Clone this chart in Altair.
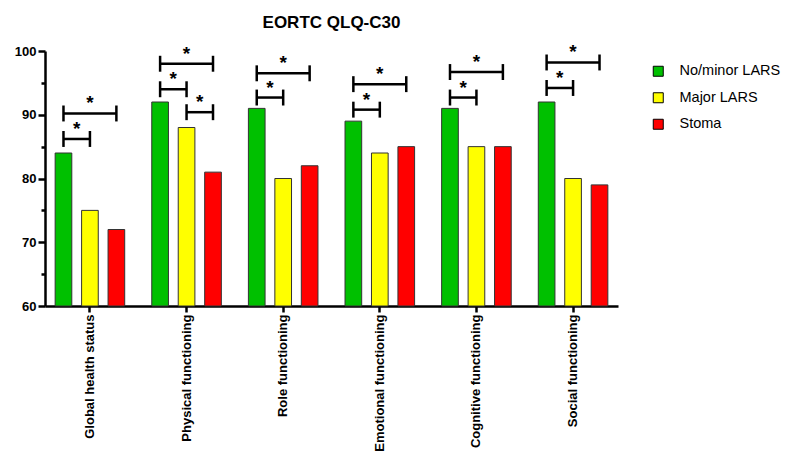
import altair as alt
import pandas as pd

categories = ["Global health status", "Physical functioning", "Role functioning",
              "Emotional functioning", "Cognitive functioning", "Social functioning"]
groups = ["No/minor LARS", "Major LARS", "Stoma"]
no_minor_lars = [84, 92, 91, 89, 91, 92]
major_lars = [75, 88, 80, 84, 85, 80]
stoma = [72, 81, 82, 85, 85, 79]
colors = ["#00C000", "#FFFF00", "#FF0000"]

# significance brackets (category, from group, to group, bracket level)
bracket_category = ["Global health status", "Global health status",
                    "Physical functioning", "Physical functioning", "Physical functioning",
                    "Role functioning", "Role functioning",
                    "Emotional functioning", "Emotional functioning",
                    "Cognitive functioning", "Cognitive functioning",
                    "Social functioning", "Social functioning"]
bracket_from = ["No/minor LARS", "No/minor LARS",
                "No/minor LARS", "No/minor LARS", "Major LARS",
                "No/minor LARS", "No/minor LARS",
                "No/minor LARS", "No/minor LARS",
                "No/minor LARS", "No/minor LARS",
                "No/minor LARS", "No/minor LARS"]
bracket_to = ["Major LARS", "Stoma",
              "Major LARS", "Stoma", "Stoma",
              "Major LARS", "Stoma",
              "Major LARS", "Stoma",
              "Major LARS", "Stoma",
              "Major LARS", "Stoma"]
bracket_level = [86.2, 90.2, 94.0, 98.0, 90.4, 92.7, 96.5, 90.8, 94.8, 92.7, 96.7, 94.2, 98.2]
y_min = 60

FONT = "Liberation Sans"

rows = []
for cat, a, b, c in zip(categories, no_minor_lars, major_lars, stoma):
    for g, v in zip(groups, (a, b, c)):
        rows.append({"category": cat, "group": g, "value": v})
bars_df = pd.DataFrame(rows)

ends = []
stars = []
for i, (cat, f, t, lev) in enumerate(zip(bracket_category, bracket_from, bracket_to, bracket_level)):
    ends.append({"id": i, "category": cat, "group": f, "level": lev})
    ends.append({"id": i, "category": cat, "group": t, "level": lev})
    span = groups.index(t) - groups.index(f)
    anchor = f if span == 1 else groups[groups.index(f) + 1]
    stars.append({"id": i, "category": cat, "group": anchor, "level": lev, "span": span})
ends_df = pd.DataFrame(ends)
stars_df = pd.DataFrame(stars)

x_enc = alt.X("category:N", sort=categories, title=None,
              scale=alt.Scale(domain=categories, paddingInner=0.28, paddingOuter=0.105),
              axis=alt.Axis(labelAngle=270, labelFont=FONT, labelFontSize=13, labelFontWeight="bold",
                            labelColor="black", domainColor="black", domainWidth=2.5,
                            tickColor="black", tickWidth=2.5, tickSize=6, labelPadding=2,
                            labelLimit=300))
xo_enc = alt.XOffset("group:N", sort=groups,
                     scale=alt.Scale(domain=groups, paddingInner=0.37, paddingOuter=0))
y_axis = alt.Axis(values=[60, 65, 70, 75, 80, 85, 90, 95, 100],
                  labelExpr="datum.value % 10 === 0 ? datum.label : ''",
                  labelFont=FONT, labelFontSize=13, labelFontWeight="bold", labelColor="black",
                  domainColor="black", domainWidth=2.5, tickColor="black", tickWidth=2.5,
                  tickSize={"condition": {"test": "datum.value % 10 === 0", "value": 7}, "value": 4},
                  labelPadding=2, grid=False, title=None)
y_scale = alt.Scale(domain=[60, 100], nice=False, zero=False)

bars = alt.Chart(bars_df).mark_bar(stroke="#333333", strokeWidth=1).encode(
    x=x_enc, xOffset=xo_enc,
    y=alt.Y("value:Q", scale=y_scale, axis=y_axis),
    y2=alt.Y2Datum(y_min),
    color=alt.Color("group:N", sort=groups,
                    scale=alt.Scale(domain=groups, range=colors),
                    legend=alt.Legend(title=None, orient="none", legendX=606, legendY=13,
                                      symbolType="square", symbolSize=100,
                                      symbolStrokeColor="black", symbolStrokeWidth=1,
                                      labelFont=FONT, labelFontSize=14.5, labelColor="black",
                                      rowPadding=10.5, labelOffset=14, labelLimit=300)),
)

lines = alt.Chart(ends_df).mark_line(color="black", strokeWidth=2.5).encode(
    x=x_enc, xOffset=xo_enc,
    y=alt.Y("level:Q", scale=y_scale, axis=y_axis),
    detail="id:N",
)

ticks = alt.Chart(ends_df).transform_calculate(
    lo="datum.level - 1.25", hi="datum.level + 1.25"
).mark_rule(color="black", strokeWidth=2.5).encode(
    x=x_enc, xOffset=xo_enc,
    y=alt.Y("lo:Q", scale=y_scale, axis=y_axis),
    y2="hi:Q",
)

stars_adj = alt.Chart(stars_df).transform_filter("datum.span == 1").mark_text(
    text="*", font=FONT, fontSize=19, fontWeight="bold", color="black", baseline="alphabetic", dx=13.2, dy=-4
).encode(x=x_enc, xOffset=xo_enc, y=alt.Y("level:Q", scale=y_scale, axis=y_axis))

stars_wide = alt.Chart(stars_df).transform_filter("datum.span == 2").mark_text(
    text="*", font=FONT, fontSize=19, fontWeight="bold", color="black", baseline="alphabetic", dx=0, dy=-4
).encode(x=x_enc, xOffset=xo_enc, y=alt.Y("level:Q", scale=y_scale, axis=y_axis))

chart = alt.layer(bars, lines, ticks, stars_adj, stars_wide).properties(
    width=573, height=255,
    title=alt.Title("EORTC QLQ-C30", font=FONT, fontSize=17, fontWeight="bold", color="black", offset=11),
    autosize=alt.AutoSizeParams(type="none"),
    padding={"left": 37, "top": 43, "right": 165, "bottom": 145},
).configure_view(stroke=None)

chart.save("out.html", embed_options={"renderer": "svg", "actions": False})
